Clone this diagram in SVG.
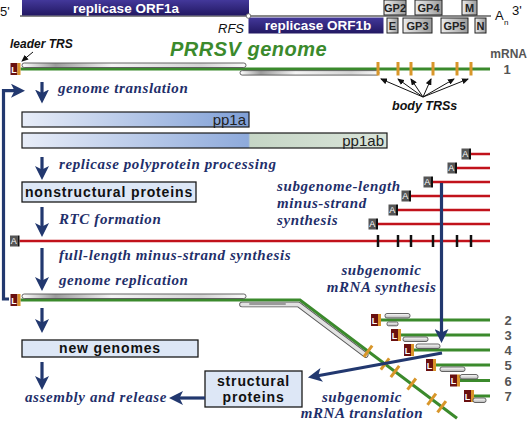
<svg xmlns="http://www.w3.org/2000/svg" width="527" height="421" viewBox="0 0 527 421">
<style>
.sans{font-family:"Liberation Sans",Arial,sans-serif}
.proc{font-family:"Liberation Serif","Times New Roman",serif;font-style:italic;font-weight:bold;font-size:15px;fill:#1f2f6a;letter-spacing:0.6px}
.box{fill:#dde7f6;stroke:#1a1a1a;stroke-width:1.3}
.boxt{font-family:"Liberation Sans",Arial,sans-serif;font-weight:bold;font-size:14px;fill:#111;letter-spacing:0.85px;text-anchor:middle}
.num{font-family:"Liberation Sans",Arial,sans-serif;font-weight:bold;font-size:13px;fill:#555;text-anchor:middle}
.gp{fill:url(#gpg);stroke:#222;stroke-width:1}
.gpt{font-family:"Liberation Sans",Arial,sans-serif;font-weight:bold;font-size:11px;fill:#222;text-anchor:middle}
.green{stroke:#3b8a2c;stroke-width:3;fill:none}
.red{stroke:#c1121b;stroke-width:2.5}
.tick{stroke:#d8962a;stroke-width:3}
.btick{stroke:#111;stroke-width:2.5}
.pill{fill:url(#pillg);stroke:#555;stroke-width:0.9}
.spill{fill:url(#spillg);stroke:#555;stroke-width:0.9}
.nav{stroke:#22386f;stroke-width:3.2;fill:none;marker-end:url(#ah)}
.thin{stroke:#111;stroke-width:1;fill:none;marker-end:url(#sh)}
</style>
<defs>
<marker id="ah" markerUnits="userSpaceOnUse" markerWidth="14" markerHeight="14" refX="4" refY="7" orient="auto"><path d="M0,0 L14,7 L0,14 L3.5,7 z" fill="#22386f"/></marker>
<marker id="sh" markerUnits="userSpaceOnUse" markerWidth="7" markerHeight="6" refX="6" refY="3" orient="auto"><path d="M0,0 L7,3 L0,6 z" fill="#111"/></marker>
<linearGradient id="orfg" x1="0" y1="0" x2="0" y2="1"><stop offset="0" stop-color="#43389a"/><stop offset="1" stop-color="#221862"/></linearGradient>
<linearGradient id="gpg" x1="0" y1="0" x2="1" y2="0"><stop offset="0" stop-color="#ececec"/><stop offset="1" stop-color="#9a9a9a"/></linearGradient>
<linearGradient id="pillg" x1="0" y1="0" x2="1" y2="0"><stop offset="0" stop-color="#ffffff"/><stop offset="0.15" stop-color="#9c9c9c"/><stop offset="0.4" stop-color="#f4f4f4"/><stop offset="0.8" stop-color="#d4d4d4"/><stop offset="1" stop-color="#fafafa"/></linearGradient>
<linearGradient id="spillg" x1="0" y1="0" x2="0" y2="1"><stop offset="0" stop-color="#ffffff"/><stop offset="1" stop-color="#b4b4b4"/></linearGradient>
<linearGradient id="pp1ag" x1="0" y1="0" x2="1" y2="0"><stop offset="0" stop-color="#e8edf8"/><stop offset="1" stop-color="#7f9fd6"/></linearGradient>
<linearGradient id="pp1abg" gradientUnits="userSpaceOnUse" x1="22" y1="0" x2="387" y2="0"><stop offset="0" stop-color="#e8edf8"/><stop offset="0.62" stop-color="#8eaadb"/><stop offset="0.625" stop-color="#c6d6c6"/><stop offset="1" stop-color="#d9e4d9"/></linearGradient>
<g id="Lmark"><rect x="0" y="-6" width="7" height="12" fill="#6a1010"/><rect x="7" y="-6" width="3" height="12" fill="#d9932a"/><text x="3.5" y="3.6" font-family="Liberation Sans,Arial,sans-serif" font-weight="bold" font-size="9" fill="#fff" text-anchor="middle">L</text></g>
<g id="Amark"><rect x="0" y="-5.5" width="7.5" height="11" fill="#555"/><rect x="7.5" y="-5.5" width="2" height="11" fill="#111"/><text x="3.8" y="3.4" font-family="Liberation Sans,Arial,sans-serif" font-size="9" fill="#fff" text-anchor="middle">A</text></g>
</defs>
<rect width="527" height="421" fill="#fff"/>

<!-- genome map header -->
<g id="genome-map">
<line x1="20" y1="16" x2="491" y2="16" stroke="#111" stroke-width="1"/>
<text x="0" y="16" class="sans" font-size="13" fill="#111">5'</text>
<rect x="22" y="0" width="227" height="15.5" fill="url(#orfg)"/>
<text x="126" y="13" class="sans" font-size="13.5" font-weight="bold" fill="#fff" text-anchor="middle">replicase ORF1a</text>
<rect x="248.5" y="17.5" width="135" height="16" fill="url(#orfg)"/>
<text x="318" y="30" class="sans" font-size="13.5" font-weight="bold" fill="#fff" text-anchor="middle">replicase ORF1b</text>
<circle cx="248.5" cy="16" r="2.3" fill="#fff" stroke="#666" stroke-width="0.9"/>
<text x="218" y="32.5" class="sans" font-size="13" font-style="italic" fill="#111">RFS</text>
<rect x="384" y="0" width="22" height="15" class="gp"/><text x="395" y="12" class="gpt">GP2</text>
<rect x="415" y="0" width="27" height="15" class="gp"/><text x="428.5" y="12" class="gpt">GP4</text>
<rect x="462" y="0" width="15" height="15" class="gp"/><text x="469.5" y="12" class="gpt">M</text>
<rect x="387" y="18" width="11" height="15" class="gp"/><text x="392.5" y="30" class="gpt">E</text>
<rect x="403" y="18" width="29" height="15" class="gp"/><text x="417.5" y="30" class="gpt">GP3</text>
<rect x="441" y="18" width="27" height="15" class="gp"/><text x="454.5" y="30" class="gpt">GP5</text>
<rect x="475" y="18" width="11" height="15" class="gp"/><text x="480.5" y="30" class="gpt">N</text>
<text x="495" y="20" class="sans" font-size="13" fill="#111">A</text>
<text x="504" y="25" class="sans" font-size="8" fill="#111">n</text>
<text x="512" y="15" class="sans" font-size="13" fill="#111">3'</text>
</g>

<!-- PRRSV genome (mRNA 1) -->
<g id="genome">
<text x="170" y="55.5" class="sans" font-size="20" font-weight="bold" font-style="italic" fill="#3b8a2c" letter-spacing="0.5">PRRSV genome</text>
<text x="10" y="48" class="sans" font-size="12" font-weight="bold" font-style="italic" fill="#111">leader TRS</text>
<text x="527" y="58" class="sans" font-size="12" font-weight="bold" fill="#555" text-anchor="end">mRNA</text>
<text x="507" y="74" class="num">1</text>
<line x1="20.5" y1="69" x2="490" y2="69" class="green"/>
<rect x="22" y="63" width="224" height="4.5" rx="2.2" class="pill"/>
<rect x="240" y="70.6" width="139" height="4.5" rx="2.2" class="pill"/>
<use href="#Lmark" x="10.5" y="69"/>
<line x1="378" y1="62" x2="378" y2="75.5" class="tick"/>
<line x1="398" y1="62" x2="398" y2="75.5" class="tick"/>
<line x1="411" y1="62" x2="411" y2="75.5" class="tick"/>
<line x1="433" y1="62" x2="433" y2="75.5" class="tick"/>
<line x1="457" y1="62" x2="457" y2="75.5" class="tick"/>
<line x1="471" y1="62" x2="471" y2="75.5" class="tick"/>
<text x="392" y="110" class="sans" font-size="12.5" font-weight="bold" font-style="italic" fill="#111">body TRSs</text>
</g>

<!-- polyproteins -->
<g id="pp1a">
<rect x="22" y="112" width="227" height="15" fill="url(#pp1ag)" stroke="#1a1a1a" stroke-width="1.2"/>
<text x="246" y="124.5" class="sans" font-size="15" fill="#222" text-anchor="end">pp1a</text>
</g>
<g id="pp1ab">
<rect x="22" y="133" width="365" height="15" fill="url(#pp1abg)" stroke="#1a1a1a" stroke-width="1.2"/>
<text x="384" y="145.5" class="sans" font-size="15" fill="#222" text-anchor="end">pp1ab</text>
</g>

<g id="nonstructural">
<rect x="22" y="182" width="174" height="20" class="box"/>
<text x="109" y="197" class="boxt">nonstructural proteins</text>
</g>

<!-- minus strands -->
<g id="minus-strands">
<line x1="471" y1="154" x2="490" y2="154" class="red"/><use href="#Amark" x="461.5" y="154"/>
<line x1="457" y1="168" x2="490" y2="168" class="red"/><use href="#Amark" x="447.5" y="168"/>
<line x1="433" y1="182" x2="490" y2="182" class="red"/><use href="#Amark" x="423.5" y="182"/>
<line x1="411" y1="196" x2="490" y2="196" class="red"/><use href="#Amark" x="401.5" y="196"/>
<line x1="398" y1="210" x2="490" y2="210" class="red"/><use href="#Amark" x="388.5" y="210"/>
<line x1="378" y1="224" x2="490" y2="224" class="red"/><use href="#Amark" x="368.5" y="224"/>
<text class="proc"><tspan x="277" y="191">subgenome-length</tspan><tspan x="277" y="208">minus-strand</tspan><tspan x="277" y="225">synthesis</tspan></text>
</g>
<g id="full-minus">
<line x1="19.5" y1="241" x2="490" y2="241" class="red"/>
<use href="#Amark" x="10" y="241"/>
<line x1="378" y1="235" x2="378" y2="247" class="btick"/>
<line x1="398" y1="235" x2="398" y2="247" class="btick"/>
<line x1="411" y1="235" x2="411" y2="247" class="btick"/>
<line x1="433" y1="235" x2="433" y2="247" class="btick"/>
<line x1="457" y1="235" x2="457" y2="247" class="btick"/>
<line x1="471" y1="235" x2="471" y2="247" class="btick"/>
</g>

<!-- replicating genome -->
<g id="new-genome-rna">
<path d="M20.5,300 H300 L457,418.2" class="green"/>
<rect x="22" y="294" width="224" height="4.5" rx="2.2" class="pill"/>
<path d="M242,304.5 L298.5,304.5 L365.7,355" fill="none" stroke="#555" stroke-width="5.6" stroke-linecap="round" stroke-linejoin="round"/>
<path d="M242,304.5 L298.5,304.5 L365.7,355" fill="none" stroke="#e2e2e2" stroke-width="3.8" stroke-linecap="round" stroke-linejoin="round"/>
<path d="M250,304 L285,304" stroke="#9a9a9a" stroke-width="2" stroke-linecap="round"/>
<use href="#Lmark" x="10.5" y="300"/>
<g class="tick">
<line x1="363.8" y1="356.8" x2="372.2" y2="345.6"/>
<line x1="380.8" y1="369.6" x2="389.2" y2="358.4"/>
<line x1="390.8" y1="377.1" x2="399.2" y2="365.9"/>
<line x1="407.5" y1="389.7" x2="415.9" y2="378.5"/>
<line x1="427.5" y1="404.8" x2="435.9" y2="393.6"/>
<line x1="437.5" y1="412.3" x2="445.9" y2="401.1"/>
</g>
</g>

<!-- subgenomic mRNAs -->
<g id="mRNA2"><line x1="381" y1="320" x2="490" y2="320" class="green"/><use href="#Lmark" x="371" y="320"/><rect x="385" y="313.5" width="25" height="4.5" rx="2" class="spill"/><rect x="387" y="322" width="11" height="3.8" rx="1.5" class="spill"/><text x="508" y="325" class="num">2</text></g>
<g id="mRNA3"><line x1="401" y1="335" x2="490" y2="335" class="green"/><use href="#Lmark" x="391" y="335"/><rect x="403" y="337" width="25" height="4.5" rx="2" class="spill"/><text x="508" y="340" class="num">3</text></g>
<g id="mRNA4"><line x1="414" y1="350" x2="490" y2="350" class="green"/><use href="#Lmark" x="404" y="350"/><rect x="416" y="344" width="24" height="4.5" rx="2" class="spill"/><text x="508" y="355" class="num">4</text></g>
<g id="mRNA5"><line x1="436" y1="365" x2="490" y2="365" class="green"/><use href="#Lmark" x="426" y="365"/><rect x="440" y="367" width="25" height="4.5" rx="2" class="spill"/><text x="508" y="370" class="num">5</text></g>
<g id="mRNA6"><line x1="460" y1="380.5" x2="490" y2="380.5" class="green"/><use href="#Lmark" x="450" y="380.5"/><rect x="460" y="374.5" width="18" height="4.5" rx="2" class="spill"/><text x="508" y="385.5" class="num">6</text></g>
<g id="mRNA7"><line x1="474" y1="396" x2="490" y2="396" class="green"/><use href="#Lmark" x="464" y="396"/><rect x="473" y="398" width="13" height="4.5" rx="2" class="spill"/><text x="508" y="401" class="num">7</text></g>

<g id="new-genomes">
<rect x="22" y="340" width="176" height="17" class="box"/>
<text x="110" y="353" class="boxt">new genomes</text>
</g>
<g id="structural">
<rect x="205" y="371" width="97" height="36" class="box"/>
<text x="253.5" y="386" class="boxt" font-size="15" letter-spacing="0.2">structural</text>
<text x="253.5" y="402" class="boxt" font-size="15" letter-spacing="0.2">proteins</text>
</g>

<!-- process labels -->
<g id="labels">
<text x="58" y="93" class="proc">genome translation</text>
<text x="59" y="169" class="proc">replicase polyprotein processing</text>
<text x="59" y="224" class="proc">RTC formation</text>
<text x="59" y="260" class="proc">full-length minus-strand synthesis</text>
<text x="59" y="285" class="proc">genome replication</text>
<text x="25" y="401.5" class="proc" letter-spacing="0.4">assembly and release</text>
<text class="proc" text-anchor="middle"><tspan x="381.5" y="275">subgenomic</tspan><tspan x="381.5" y="291.5">mRNA synthesis</tspan></text>
<text class="proc" text-anchor="middle"><tspan x="362" y="401.5">subgenomic</tspan><tspan x="362" y="418">mRNA translation</tspan></text>
</g>

<!-- connectors -->
<g id="connectors">
<line x1="33" y1="52" x2="22" y2="61" class="thin"/>
<line x1="423" y1="97" x2="381" y2="79" class="thin"/>
<line x1="423" y1="97" x2="398" y2="79" class="thin"/>
<line x1="423" y1="97" x2="411" y2="79" class="thin"/>
<line x1="423" y1="97" x2="431" y2="79" class="thin"/>
<line x1="423" y1="97" x2="454" y2="79" class="thin"/>
<line x1="423" y1="97" x2="468" y2="79" class="thin"/>
<line x1="42" y1="82" x2="42" y2="93.5" class="nav"/>
<line x1="42" y1="157" x2="42" y2="170" class="nav"/>
<line x1="42" y1="207" x2="42" y2="227" class="nav"/>
<line x1="42" y1="248" x2="42" y2="281" class="nav"/>
<line x1="42" y1="308" x2="42" y2="323" class="nav"/>
<line x1="42" y1="362" x2="42" y2="380" class="nav"/>
<path d="M9,299 H3.5 V90.7 H15" class="nav"/>
<line x1="441.5" y1="183" x2="441.5" y2="333" class="nav"/>
<line x1="442" y1="353" x2="317.8" y2="375.7" class="nav"/>
<line x1="205" y1="398" x2="179" y2="398" class="nav"/>
</g>
</svg>
